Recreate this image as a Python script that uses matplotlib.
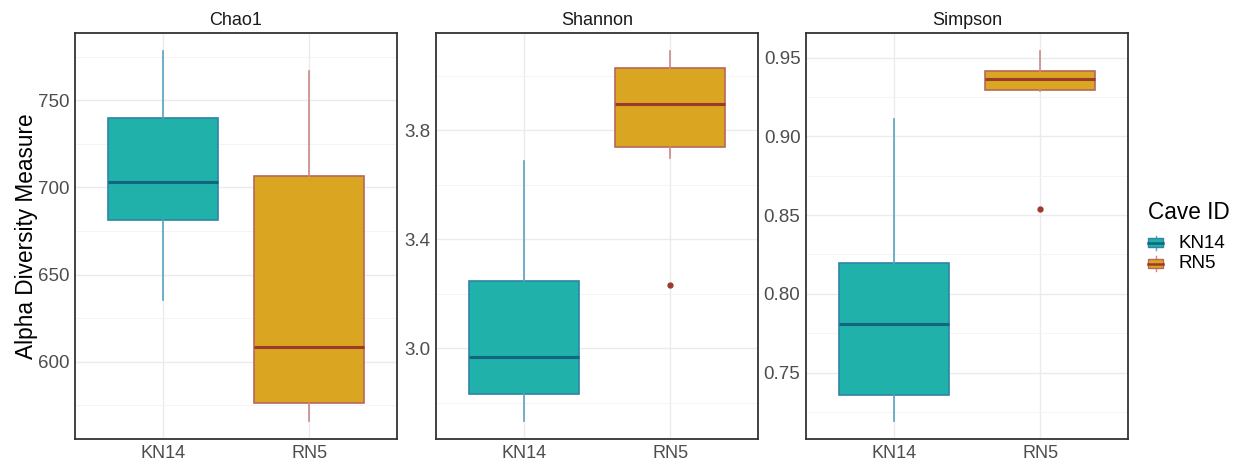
import matplotlib
matplotlib.use("Agg")
import matplotlib.pyplot as plt
from matplotlib.ticker import FixedLocator, FormatStrFormatter
from matplotlib.patches import Rectangle
from matplotlib.lines import Line2D
from matplotlib.legend_handler import HandlerBase

plt.rcParams['font.family'] = ['Liberation Sans', 'DejaVu Sans']

# data: whisker low, q1, median, q3, whisker high
groups = ['KN14', 'RN5']
metrics = ['Chao1', 'Shannon', 'Simpson']

chao1_kn14 = [635.6, 681.2, 703.0, 740.0, 778.0]
chao1_rn5 = [566.3, 576.2, 608.2, 706.5, 766.7]
shannon_kn14 = [2.734, 2.832, 2.968, 3.245, 3.687]
shannon_rn5 = [3.699, 3.737, 3.897, 4.029, 4.089]
simpson_kn14 = [0.7195, 0.7359, 0.781, 0.8193, 0.911]
simpson_rn5 = [0.9289, 0.9297, 0.9367, 0.9416, 0.954]

chao1_out = [[], []]
shannon_out = [[], [3.233]]
simpson_out = [[], [0.8541]]

chao1_ticks = [600, 650, 700, 750]
shannon_ticks = [3.0, 3.4, 3.8]
simpson_ticks = [0.75, 0.80, 0.85, 0.90, 0.95]
chao1_minor = [575, 625, 675, 725, 775]
shannon_minor = [2.8, 3.2, 3.6, 4.0]
simpson_minor = [0.725, 0.775, 0.825, 0.875, 0.925]

stats_all = [(chao1_kn14, chao1_rn5), (shannon_kn14, shannon_rn5), (simpson_kn14, simpson_rn5)]
outs_all = [chao1_out, shannon_out, simpson_out]
ticks_all = [chao1_ticks, shannon_ticks, simpson_ticks]
minor_all = [chao1_minor, shannon_minor, simpson_minor]
fmts = ['%d', '%.1f', '%.2f']

fill = {'KN14': '#20B2AA', 'RN5': '#DAA520'}
edge = {'KN14': '#2f84a6', 'RN5': '#b9665e'}
whisk = {'KN14': '#5aa2bf', 'RN5': '#c98a88'}
medc = {'KN14': '#13647f', 'RN5': '#9a3b2b'}

W, H = 1238, 465
fig = plt.figure(figsize=(W / 100, H / 100), dpi=100)
lefts = [75, 436, 806]
pw = 322
top, bottom = 33, 439

for i, m in enumerate(metrics):
    ax = fig.add_axes([lefts[i] / W, (H - bottom) / H, pw / W, (bottom - top) / H])
    for j, g in enumerate(groups):
        s = stats_all[i][j]
        st = dict(whislo=s[0], q1=s[1], med=s[2], q3=s[3], whishi=s[4],
                  fliers=outs_all[i][j], label=g)
        ax.bxp([st], positions=[j + 1], widths=0.75, patch_artist=True, showcaps=False,
               boxprops=dict(facecolor=fill[g], edgecolor=edge[g], linewidth=1.2),
               whiskerprops=dict(color=whisk[g], linewidth=1.2),
               medianprops=dict(color=medc[g], linewidth=2.2),
               flierprops=dict(marker='o', markersize=3.5, markerfacecolor=medc[g],
                               markeredgecolor=medc[g]), zorder=3)
    ax.set_xlim(0.4, 2.6)
    ax.set_xticks([1, 2])
    ax.set_xticklabels(groups)
    ax.margins(y=0.05)
    ax.yaxis.set_major_locator(FixedLocator(ticks_all[i]))
    ax.yaxis.set_minor_locator(FixedLocator(minor_all[i]))
    ax.yaxis.set_major_formatter(FormatStrFormatter(fmts[i]))
    ax.grid(True, which='major', color='#ebebeb', linewidth=1.0, zorder=0)
    ax.grid(True, which='minor', axis='y', color='#f3f3f3', linewidth=0.6, zorder=0)
    ax.set_axisbelow(True)
    ax.tick_params(axis='x', which='major', labelsize=13, labelcolor='#4d4d4d',
                   length=0, pad=4)
    ax.tick_params(axis='y', which='major', labelsize=13.5, labelcolor='#4d4d4d',
                   length=0, pad=4)
    ax.tick_params(axis='y', which='minor', length=0)
    for sp in ax.spines.values():
        sp.set_color('#333333')
        sp.set_linewidth(1.3)
    ax.set_title(m, fontsize=13, color='#1a1a1a', pad=6)
    if i == 0:
        ax.set_ylabel('Alpha Diversity Measure', fontsize=16.3, color='#000000', labelpad=0)


class BoxHandler(HandlerBase):
    def create_artists(self, legend, orig, xd, yd, width, height, fontsize, trans):
        g = orig.get_label()
        r = Rectangle((xd, yd + height * 0.1), width, height * 0.8, facecolor=fill[g],
                      edgecolor=edge[g], linewidth=1.0, transform=trans)
        cx = xd + width / 2
        v = Line2D([cx, cx], [yd - height * 0.15, yd + height * 1.15], color=whisk[g],
                   linewidth=1.0, transform=trans)
        md = Line2D([xd, xd + width], [yd + height / 2] * 2, color=medc[g], linewidth=1.8,
                    transform=trans)
        return [v, r, md]


handles = [Line2D([], [], label=g) for g in groups]
fig.legend(handles=handles, labels=groups, handler_map={Line2D: BoxHandler()},
           loc='center left', bbox_to_anchor=(1148 / W, 1 - 253.5 / H),
           frameon=False, fontsize=13.5, handlelength=0.8,
           handleheight=0.55, handletextpad=0.8, labelspacing=0.2, borderpad=0,
           borderaxespad=0)
fig.text(1148 / W, 1 - 212 / H, 'Cave ID', ha='left', va='center', fontsize=16.3,
         color='#000000')

fig.savefig('out.png', dpi=100)
